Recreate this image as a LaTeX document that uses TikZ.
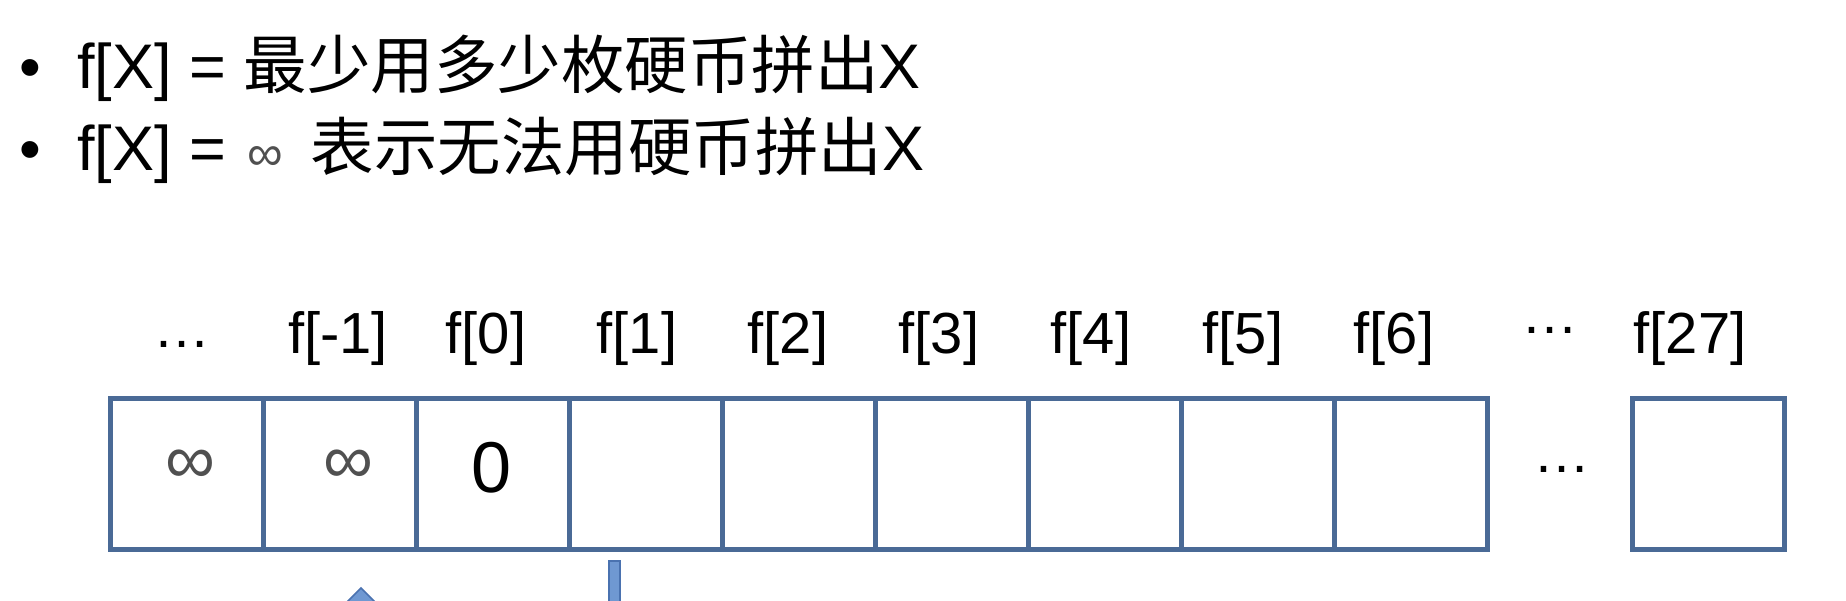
\documentclass[tikz,border=0pt]{standalone}
\usepackage{fontspec}
\setmainfont{Liberation Sans}
\newfontfamily\cjk{Noto Sans CJK SC}
\definecolor{boxblue}{HTML}{4A6A96}
\definecolor{arrfill}{HTML}{6F98D2}
\definecolor{arredge}{HTML}{4A72B0}
\definecolor{infgray}{HTML}{505050}
\begin{document}
\begin{tikzpicture}[x=1pt,y=-1pt,
  cellbox/.style={draw=boxblue, line width=4.5pt, fill=white, rectangle,
    minimum width=153pt, minimum height=151pt, inner sep=0pt, anchor=north west},
  lbl/.style={inner sep=0pt, anchor=base, font=\fontsize{58pt}{60pt}\selectfont},
  inftxt/.style={inner sep=0pt, anchor=center, text=infgray, font=\fontsize{70pt}{72pt}\selectfont},
  numtxt/.style={inner sep=0pt, anchor=base, font=\fontsize{72pt}{72pt}\selectfont},
  bullettxt/.style={inner sep=0pt, anchor=base west, font=\fontsize{63pt}{70pt}\selectfont},
  bulletdot/.style={inner sep=0pt, anchor=base, font=\fontsize{62pt}{70pt}\selectfont},
  dots/.style={inner sep=0pt, anchor=base, font=\fontsize{57pt}{60pt}\selectfont},
  arrowpart/.style={fill=arrfill, draw=arredge, line width=1.5pt}
]
\useasboundingbox (0,0) rectangle (1846,600);
\clip (0,0) rectangle (1846,600);
\fill[white] (0,0) rectangle (1846,600);

% bullet lines
\node[bulletdot] (b1) at (30,88) {•};
\node[bullettxt] (t1) at (77,88) {f[X] = {\cjk\fontsize{63.5pt}{70pt}\selectfont 最少用多少枚硬币拼出}X};
\node[bulletdot] (b2) at (30,170) {•};
\node[bullettxt] (t2) at (77,170) {f[X] = \hspace{4pt}{\color{infgray}\fontsize{50pt}{50pt}\selectfont ∞}\hspace{10pt} {\cjk\fontsize{63.5pt}{70pt}\selectfont 表示无法用硬币拼出}X};

% cells
\foreach \i in {0,...,8} {
  \node[cellbox] (c\i) at (108+153*\i,396) {};
}
\node[cellbox, minimum width=152pt] (c27) at (1630,396) {};

% cell contents
\node[inftxt] (v0) at (190,467) {∞};
\node[inftxt] (v1) at (348,467) {∞};
\node[numtxt] (v2) at (492,492) {0};
\node[dots] (mdots) at (1562,472) {…};

% labels
\node[dots] (ldots) at (182,347) {…};
\node[lbl] (lm1) at (338,353) {f[-1]};
\node[lbl] (l0) at (486,353) {f[0]};
\node[lbl] (l1) at (637,353) {f[1]};
\node[lbl] (l2) at (788,353) {f[2]};
\node[lbl] (l3) at (939,353) {f[3]};
\node[lbl] (l4) at (1091,353) {f[4]};
\node[lbl] (l5) at (1243,353) {f[5]};
\node[lbl] (l6) at (1394,353) {f[6]};
\node[dots] (rdots) at (1550,333) {…};
\node[lbl] (l27) at (1690,353) {f[27]};

% arrow fragments (cut off at the lower edge)
\coordinate (uptip) at (361,588);
\draw[arrowpart] (uptip) -- ++(26,26) -- ++(-52,0) -- cycle;
\coordinate (shafttop) at (609,561);
\draw[arrowpart] (shafttop) rectangle ++(11,60);
\end{tikzpicture}
\end{document}
